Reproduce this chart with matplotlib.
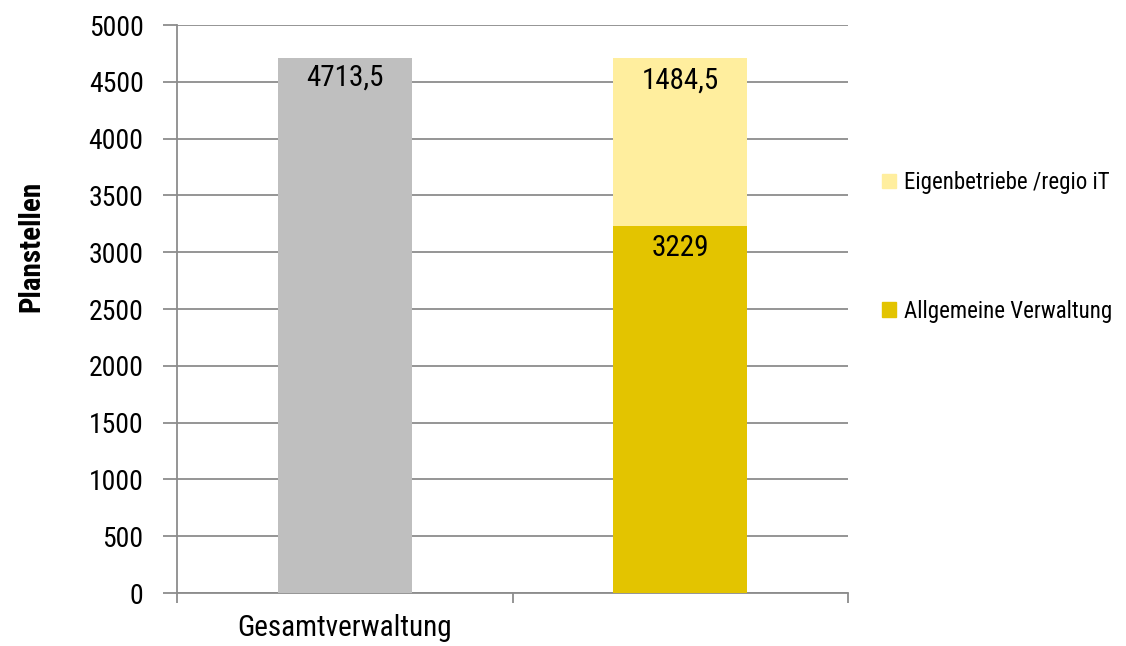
import matplotlib
matplotlib.use("Agg")
import matplotlib.pyplot as plt
from matplotlib.patches import Patch

plt.rcParams['font.family'] = ['Roboto Condensed', 'Liberation Sans', 'DejaVu Sans']

categories = ["Gesamtverwaltung", ""]
gesamt = [4713.5, 0]
allgemeine = [0, 3229]
eigenbetriebe = [0, 1484.5]
series_names = ["Eigenbetriebe /regio iT", "Allgemeine Verwaltung"]
yticks = [0, 500, 1000, 1500, 2000, 2500, 3000, 3500, 4000, 4500, 5000]

c_gray = "#BFBFBF"
c_light = "#FFEE9E"
c_dark = "#E3C400"
grid_c = "#8C8C8C"

def fmt(v):
    s = f"{v:g}"
    return s.replace('.', ',')

fig = plt.figure(figsize=(11.26, 6.46), dpi=100)
ax = fig.add_axes([0.1572, 0.082, 0.596, 0.8793])

x = [0.5, 1.5]
w = 0.4
ax.bar(x[0], gesamt[0], width=w, color=c_gray, zorder=3)
ax.bar(x[1], allgemeine[1], width=w, color=c_dark, zorder=3)
ax.bar(x[1], eigenbetriebe[1], width=w, bottom=allgemeine[1], color=c_light, zorder=3)

fs = 20
lfs = 21
ax.text(x[0], gesamt[0] - 180, fmt(gesamt[0]), ha='center', va='center', fontsize=lfs, zorder=4)
ax.text(x[1], allgemeine[1] + eigenbetriebe[1] - 200, fmt(eigenbetriebe[1]), ha='center', va='center', fontsize=lfs, zorder=4)
ax.text(x[1], allgemeine[1] - 195, fmt(allgemeine[1]), ha='center', va='center', fontsize=lfs, zorder=4)

ax.set_xlim(0, 2)
ax.set_ylim(0, 5000)
ax.set_yticks(yticks)
ax.set_yticklabels([str(t) for t in yticks], fontsize=fs)
ax.set_xticks([0, 1, 2])
ax.set_xticklabels([])
ax.set_xticks(x, minor=True)
ax.set_xticklabels(categories, minor=True, fontsize=21)
ax.tick_params(axis='x', which='minor', length=0, pad=15)
ax.tick_params(axis='x', which='major', length=7, width=1.3, color=grid_c)
ax.tick_params(axis='y', length=10, width=1.3, color=grid_c, pad=14)

ax.yaxis.grid(True, color=grid_c, linewidth=1.3, zorder=0)
ax.set_axisbelow(True)
for s in ['top', 'right']:
    ax.spines[s].set_visible(False)
for s in ['left', 'bottom']:
    ax.spines[s].set_color(grid_c)
    ax.spines[s].set_linewidth(1.3)

fig.text(31 / 1126, 1 - 246 / 646, "Planstellen", rotation=90, ha='center', va='center',
         fontsize=21, fontweight='bold')

handles = [Patch(color=c_light), Patch(color=c_dark)]
leg = fig.legend(handles, series_names, loc='center left', bbox_to_anchor=(882 / 1126, 1 - 247 / 646),
                 frameon=False, fontsize=16.5, handlelength=0.6, handleheight=0.6,
                 handletextpad=0.35, labelspacing=4.6, borderpad=0, borderaxespad=0)

fig.savefig("out.png", dpi=100)
